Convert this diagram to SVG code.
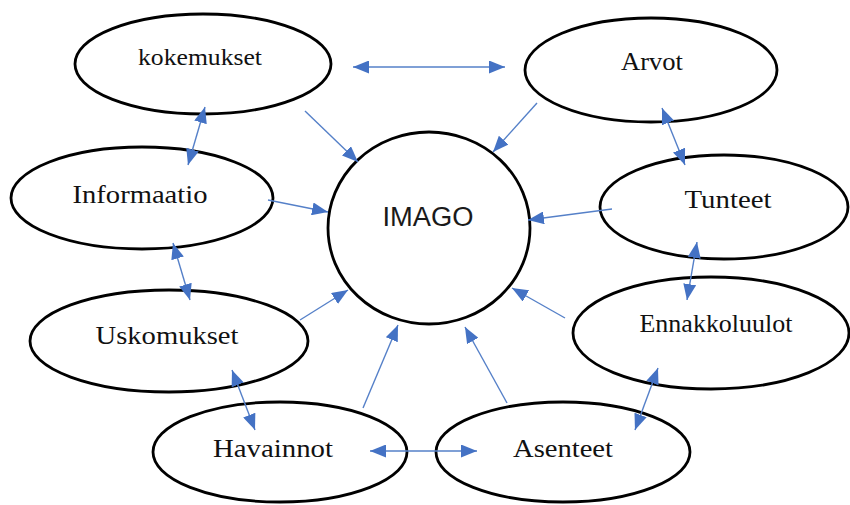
<svg xmlns="http://www.w3.org/2000/svg" width="850" height="505" viewBox="0 0 850 505">
  <style>
    .node ellipse { fill: #ffffff; stroke: #000000; stroke-width: 2.8; }
    .label { font-family: "Liberation Serif", "Times New Roman", serif; font-size: 26px; fill: #111111; text-anchor: middle; }
    .small { font-size: 24px; }
    .hub { font-family: "Liberation Sans", Arial, sans-serif; font-size: 27px; fill: #1a1a1a; text-anchor: middle; }
    .link { stroke: #5580c8; stroke-width: 1.4; fill: none; }
    .one { marker-end: url(#head); }
    .both { marker-start: url(#head); marker-end: url(#head); }
  </style>
  <defs>
    <marker id="head" markerUnits="userSpaceOnUse" markerWidth="16" markerHeight="13" refX="16" refY="6.5" orient="auto-start-reverse">
      <path d="M0,0 L16,6.5 L0,13 Z" fill="#4472c4"/>
    </marker>
  </defs>
  <rect width="850" height="505" fill="#ffffff"/>

  <g id="imago" class="node">
    <ellipse cx="429" cy="228" rx="101" ry="96"/>
    <text class="hub" x="428" y="226" textLength="91" lengthAdjust="spacingAndGlyphs">IMAGO</text>
  </g>
  <g id="kokemukset" class="node">
    <ellipse cx="203" cy="64" rx="128" ry="50"/>
    <text class="label small" x="200" y="65" textLength="124" lengthAdjust="spacingAndGlyphs">kokemukset</text>
  </g>
  <g id="arvot" class="node">
    <ellipse cx="651" cy="70" rx="126" ry="52"/>
    <text class="label" x="652" y="70" textLength="62" lengthAdjust="spacingAndGlyphs">Arvot</text>
  </g>
  <g id="tunteet" class="node">
    <ellipse cx="724" cy="207" rx="124" ry="52"/>
    <text class="label" x="728" y="208" textLength="87" lengthAdjust="spacingAndGlyphs">Tunteet</text>
  </g>
  <g id="informaatio" class="node">
    <ellipse cx="142" cy="198" rx="131" ry="51"/>
    <text class="label" x="140" y="203" textLength="135" lengthAdjust="spacingAndGlyphs">Informaatio</text>
  </g>
  <g id="uskomukset" class="node">
    <ellipse cx="169" cy="341" rx="139" ry="51"/>
    <text class="label" x="167" y="344" textLength="143" lengthAdjust="spacingAndGlyphs">Uskomukset</text>
  </g>
  <g id="ennakkoluulot" class="node">
    <ellipse cx="711" cy="333" rx="138" ry="56"/>
    <text class="label" x="716" y="332" textLength="153" lengthAdjust="spacingAndGlyphs">Ennakkoluulot</text>
  </g>
  <g id="havainnot" class="node">
    <ellipse cx="280" cy="452" rx="127" ry="50"/>
    <text class="label" x="273" y="457" textLength="120" lengthAdjust="spacingAndGlyphs">Havainnot</text>
  </g>
  <g id="asenteet" class="node">
    <ellipse cx="563" cy="452" rx="127" ry="50"/>
    <text class="label" x="563" y="457" textLength="100" lengthAdjust="spacingAndGlyphs">Asenteet</text>
  </g>

  <g id="connectors">
    <!-- two-way links between neighbouring ellipses -->
    <line class="link both" x1="353" y1="67" x2="505" y2="67"/>
    <line class="link both" x1="662" y1="108" x2="685" y2="165"/>
    <line class="link both" x1="205" y1="107" x2="188" y2="165"/>
    <line class="link both" x1="173" y1="243" x2="190" y2="300"/>
    <line class="link both" x1="232" y1="370" x2="255" y2="430"/>
    <line class="link both" x1="370" y1="451" x2="477" y2="451"/>
    <line class="link both" x1="697" y1="242" x2="687" y2="300"/>
    <line class="link both" x1="658" y1="368" x2="635" y2="430"/>
    <!-- inbound links to the centre -->
    <line class="link one" x1="305" y1="111" x2="358" y2="162"/>
    <line class="link one" x1="537" y1="103" x2="493" y2="152"/>
    <line class="link one" x1="612" y1="209" x2="528" y2="220"/>
    <line class="link one" x1="268" y1="200" x2="328" y2="212"/>
    <line class="link one" x1="300" y1="320" x2="348" y2="290"/>
    <line class="link one" x1="363" y1="408" x2="398" y2="325"/>
    <line class="link one" x1="507" y1="403" x2="465" y2="327"/>
    <line class="link one" x1="565" y1="318" x2="512" y2="288"/>
  </g>
</svg>
